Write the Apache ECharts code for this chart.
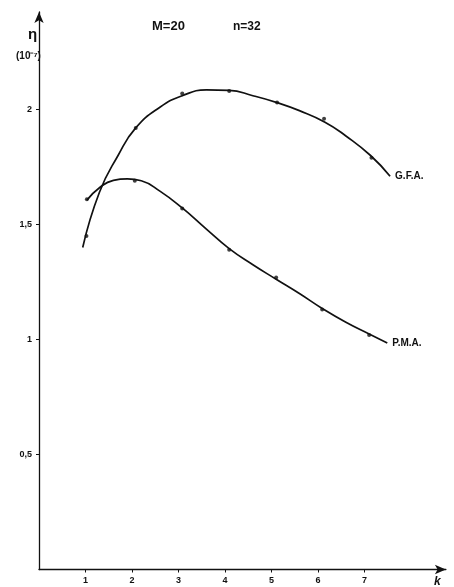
<!DOCTYPE html>
<html>
<head>
<meta charset="utf-8">
<script src="https://cdn.jsdelivr.net/npm/echarts@6/dist/echarts.min.js"></script>
<style>
html,body{margin:0;padding:0;background:#fff;}
#chart{width:454px;height:587px;}
</style>
</head>
<body>
<div id="chart"></div>
<script>
// ---- data ----
const kTicks = [1, 2, 3, 4, 5, 6, 7];
const etaTicks = [0.5, 1, 1.5, 2];
const etaTickLabels = ['0,5', '1', '1,5', '2'];

// measured points
const gfaK   = [1.02, 2.08, 3.08, 4.09, 5.12, 6.13, 7.15];
const gfaEta = [1.45, 1.92, 2.07, 2.08, 2.03, 1.96, 1.79];
const pmaK   = [1.03, 2.06, 3.08, 4.09, 5.10, 6.09, 7.10];
const pmaEta = [1.61, 1.69, 1.57, 1.39, 1.27, 1.13, 1.02];

// fitted curves
const gfaCurveK   = [0.94, 1.30, 1.70, 2.08, 2.60, 3.08, 3.60, 4.09, 4.60, 5.12, 5.60, 6.15, 6.60, 7.13, 7.55];
const gfaCurveEta = [1.40, 1.64, 1.80, 1.92, 2.01, 2.06, 2.085, 2.083, 2.06, 2.03, 1.995, 1.945, 1.885, 1.80, 1.71];
const pmaCurveK   = [1.03, 1.30, 1.60, 1.90, 2.20, 2.60, 3.08, 3.60, 4.09, 4.60, 5.10, 5.60, 6.09, 6.60, 7.10, 7.49];
const pmaCurveEta = [1.606, 1.66, 1.692, 1.698, 1.69, 1.645, 1.572, 1.48, 1.395, 1.325, 1.262, 1.20, 1.135, 1.075, 1.024, 0.985];

const seriesNames = ['G.F.A.', 'P.M.A.'];
const titleM = 'M=20';
const titleN = 'n=32';
const yName = 'η';
const yUnit = '(10⁻⁷)';
const xName = 'k';

const zip = (a, b) => a.map((v, i) => [v, b[i]]);
const FONT = '"Liberation Sans", Arial, sans-serif';
const INK = '#111';

const chart = echarts.init(document.getElementById('chart'), null, {renderer: 'canvas'});

const X0 = 39, Y0 = 569.5, PX_X = 46.5, PX_Y = 230;
const XMAX = 8.75, YMAX = 2.424;

const curveSeries = (name, data) => ({
  type: 'line', name, data, smooth: 0.5, showSymbol: false, symbol: 'none',
  lineStyle: {color: INK, width: 1.7}, silent: true,
  endLabel: {show: true, formatter: name, distance: 5, color: INK,
    fontFamily: FONT, fontWeight: 'bold', fontSize: 10}
});
const pointSeries = (data) => ({
  type: 'scatter', data, symbol: 'circle', symbolSize: 4,
  itemStyle: {color: INK}, silent: true
});

chart.setOption({
  animation: false,
  backgroundColor: '#fff',
  grid: {left: X0, top: Y0 - YMAX * PX_Y, width: XMAX * PX_X, height: YMAX * PX_Y,
         containLabel: false, outerBoundsMode: 'none'},
  xAxis: {
    type: 'value', min: 0, max: XMAX, interval: 1,
    axisLine: {show: true, symbol: ['none', 'arrow'], symbolSize: [7, 11],
      lineStyle: {color: INK, width: 1.3}},
    axisTick: {show: true, length: 3, customValues: kTicks, lineStyle: {color: INK, width: 1}},
    axisLabel: {customValues: kTicks, margin: 7, color: INK, fontFamily: FONT,
      fontWeight: 'bold', fontSize: 9},
    splitLine: {show: false}
  },
  yAxis: {
    type: 'value', min: 0, max: YMAX, interval: 0.5,
    axisLine: {show: true, symbol: ['none', 'arrow'], symbolSize: [7, 11],
      lineStyle: {color: INK, width: 1.3}},
    axisTick: {show: true, length: 3, customValues: etaTicks, lineStyle: {color: INK, width: 1}},
    axisLabel: {customValues: etaTicks, margin: 7, color: INK, fontFamily: FONT,
      fontWeight: 'bold', fontSize: 9,
      formatter: v => { const i = etaTicks.indexOf(v); return i >= 0 ? etaTickLabels[i] : ''; }},
    splitLine: {show: false}
  },
  series: [
    curveSeries(seriesNames[0], zip(gfaCurveK, gfaCurveEta)),
    curveSeries(seriesNames[1], zip(pmaCurveK, pmaCurveEta)),
    pointSeries(zip(gfaK, gfaEta)),
    pointSeries(zip(pmaK, pmaEta))
  ],
  graphic: [
    {type: 'text', left: 28, top: 27, style: {text: yName, font: 'bold 15px ' + FONT, fill: INK}},
    {type: 'text', left: 16, top: 51, style: {text: yUnit, font: 'bold 10px ' + FONT, fill: INK}},
    {type: 'text', left: 152, top: 20, style: {text: titleM, font: 'bold 13px ' + FONT, fill: INK}},
    {type: 'text', left: 233, top: 21, style: {text: titleN, font: 'bold 12px ' + FONT, fill: INK}},
    {type: 'text', left: 434, top: 576, style: {text: xName, font: 'italic bold 12px ' + FONT, fill: INK}}
  ]
});
</script>
</body>
</html>
